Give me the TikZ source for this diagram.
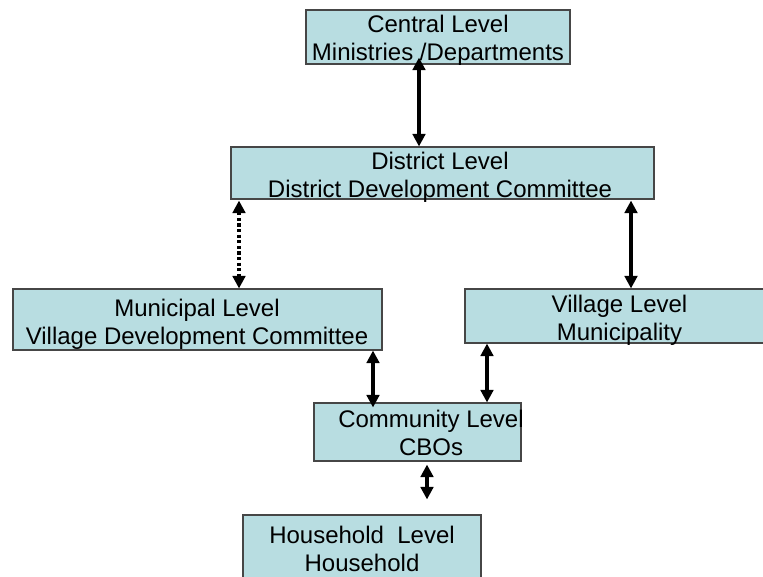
\documentclass[tikz,border=0pt]{standalone}
\usepackage{fontspec}
\setmainfont{Liberation Sans}
\usetikzlibrary{arrows.meta}
\definecolor{boxfill}{RGB}{184,221,225}
\definecolor{boxline}{RGB}{70,70,70}
\tikzset{
  levelbox/.style={draw=boxline, fill=boxfill, line width=1.1pt, inner sep=0pt},
  lbl/.style={anchor=north, inner sep=0pt, align=center, text=black,
    font=\fontsize{24}{27.6}\selectfont},
  link/.style={line width=3.8pt, {Triangle[width=12.5pt,length=12.5pt]}-{Triangle[width=12.5pt,length=12.5pt]}},
  dotlink/.style={link, line width=4.5pt, dash pattern=on 3.2pt off 2.4pt}
}
\begin{document}
\begin{tikzpicture}[x=1pt, y=-1pt]
\useasboundingbox (0,0) rectangle (763,576);
\fill[white] (0,0) rectangle (763,576);

% level boxes
\node[levelbox, minimum width=264pt, minimum height=54pt] (central) at (438,37) {};
\node[levelbox, minimum width=423pt, minimum height=52pt] (district) at (442.5,173) {};
\node[levelbox, minimum width=369pt, minimum height=61pt] (municipal) at (197.5,319.5) {};
\node[levelbox, minimum width=310pt, minimum height=54pt] (village) at (620,316) {};
\node[levelbox, minimum width=207pt, minimum height=58pt] (community) at (417.5,432) {};
\node[levelbox, minimum width=238pt, minimum height=65pt] (household) at (362,547.5) {};

% labels
\node[lbl] (centralT) at (438,15) {Central Level\\Ministries /Departments};
\node[lbl] (districtT) at (440,152) {District Level\\District Development Committee};
\node[lbl] (municipalT) at (197,299) {Municipal Level\\Village Development Committee};
\node[lbl] (villageT) at (619.5,295) {Village Level\\Municipality};
\node[lbl] (communityT) at (431,410) {Community Level\\CBOs};
\node[lbl] (householdT) at (362,526) {Household\ \ Level\\Household};

% connectors
\draw[link] ([shift={(-19,-7)}]central.south) -- ([shift={(-23.5,0)}]district.north);
\draw[dotlink] ([shift={(-203.5,1)}]district.south) -- ([shift={(41.5,0)}]municipal.north);
\draw[link] ([shift={(188.5,1)}]district.south) -- ([shift={(11,0)}]village.north);
\draw[link] ([shift={(175.5,0)}]municipal.south) -- ([shift={(-44.5,5)}]community.north);
\draw[link] ([shift={(-133,0)}]village.south) -- ([shift={(69.5,0)}]community.north);
\coordinate (hhend) at ([shift={(65,-15)}]household.north);
\draw[link] ([shift={(9.5,3)}]community.south) -- (hhend);
\end{tikzpicture}
\end{document}
